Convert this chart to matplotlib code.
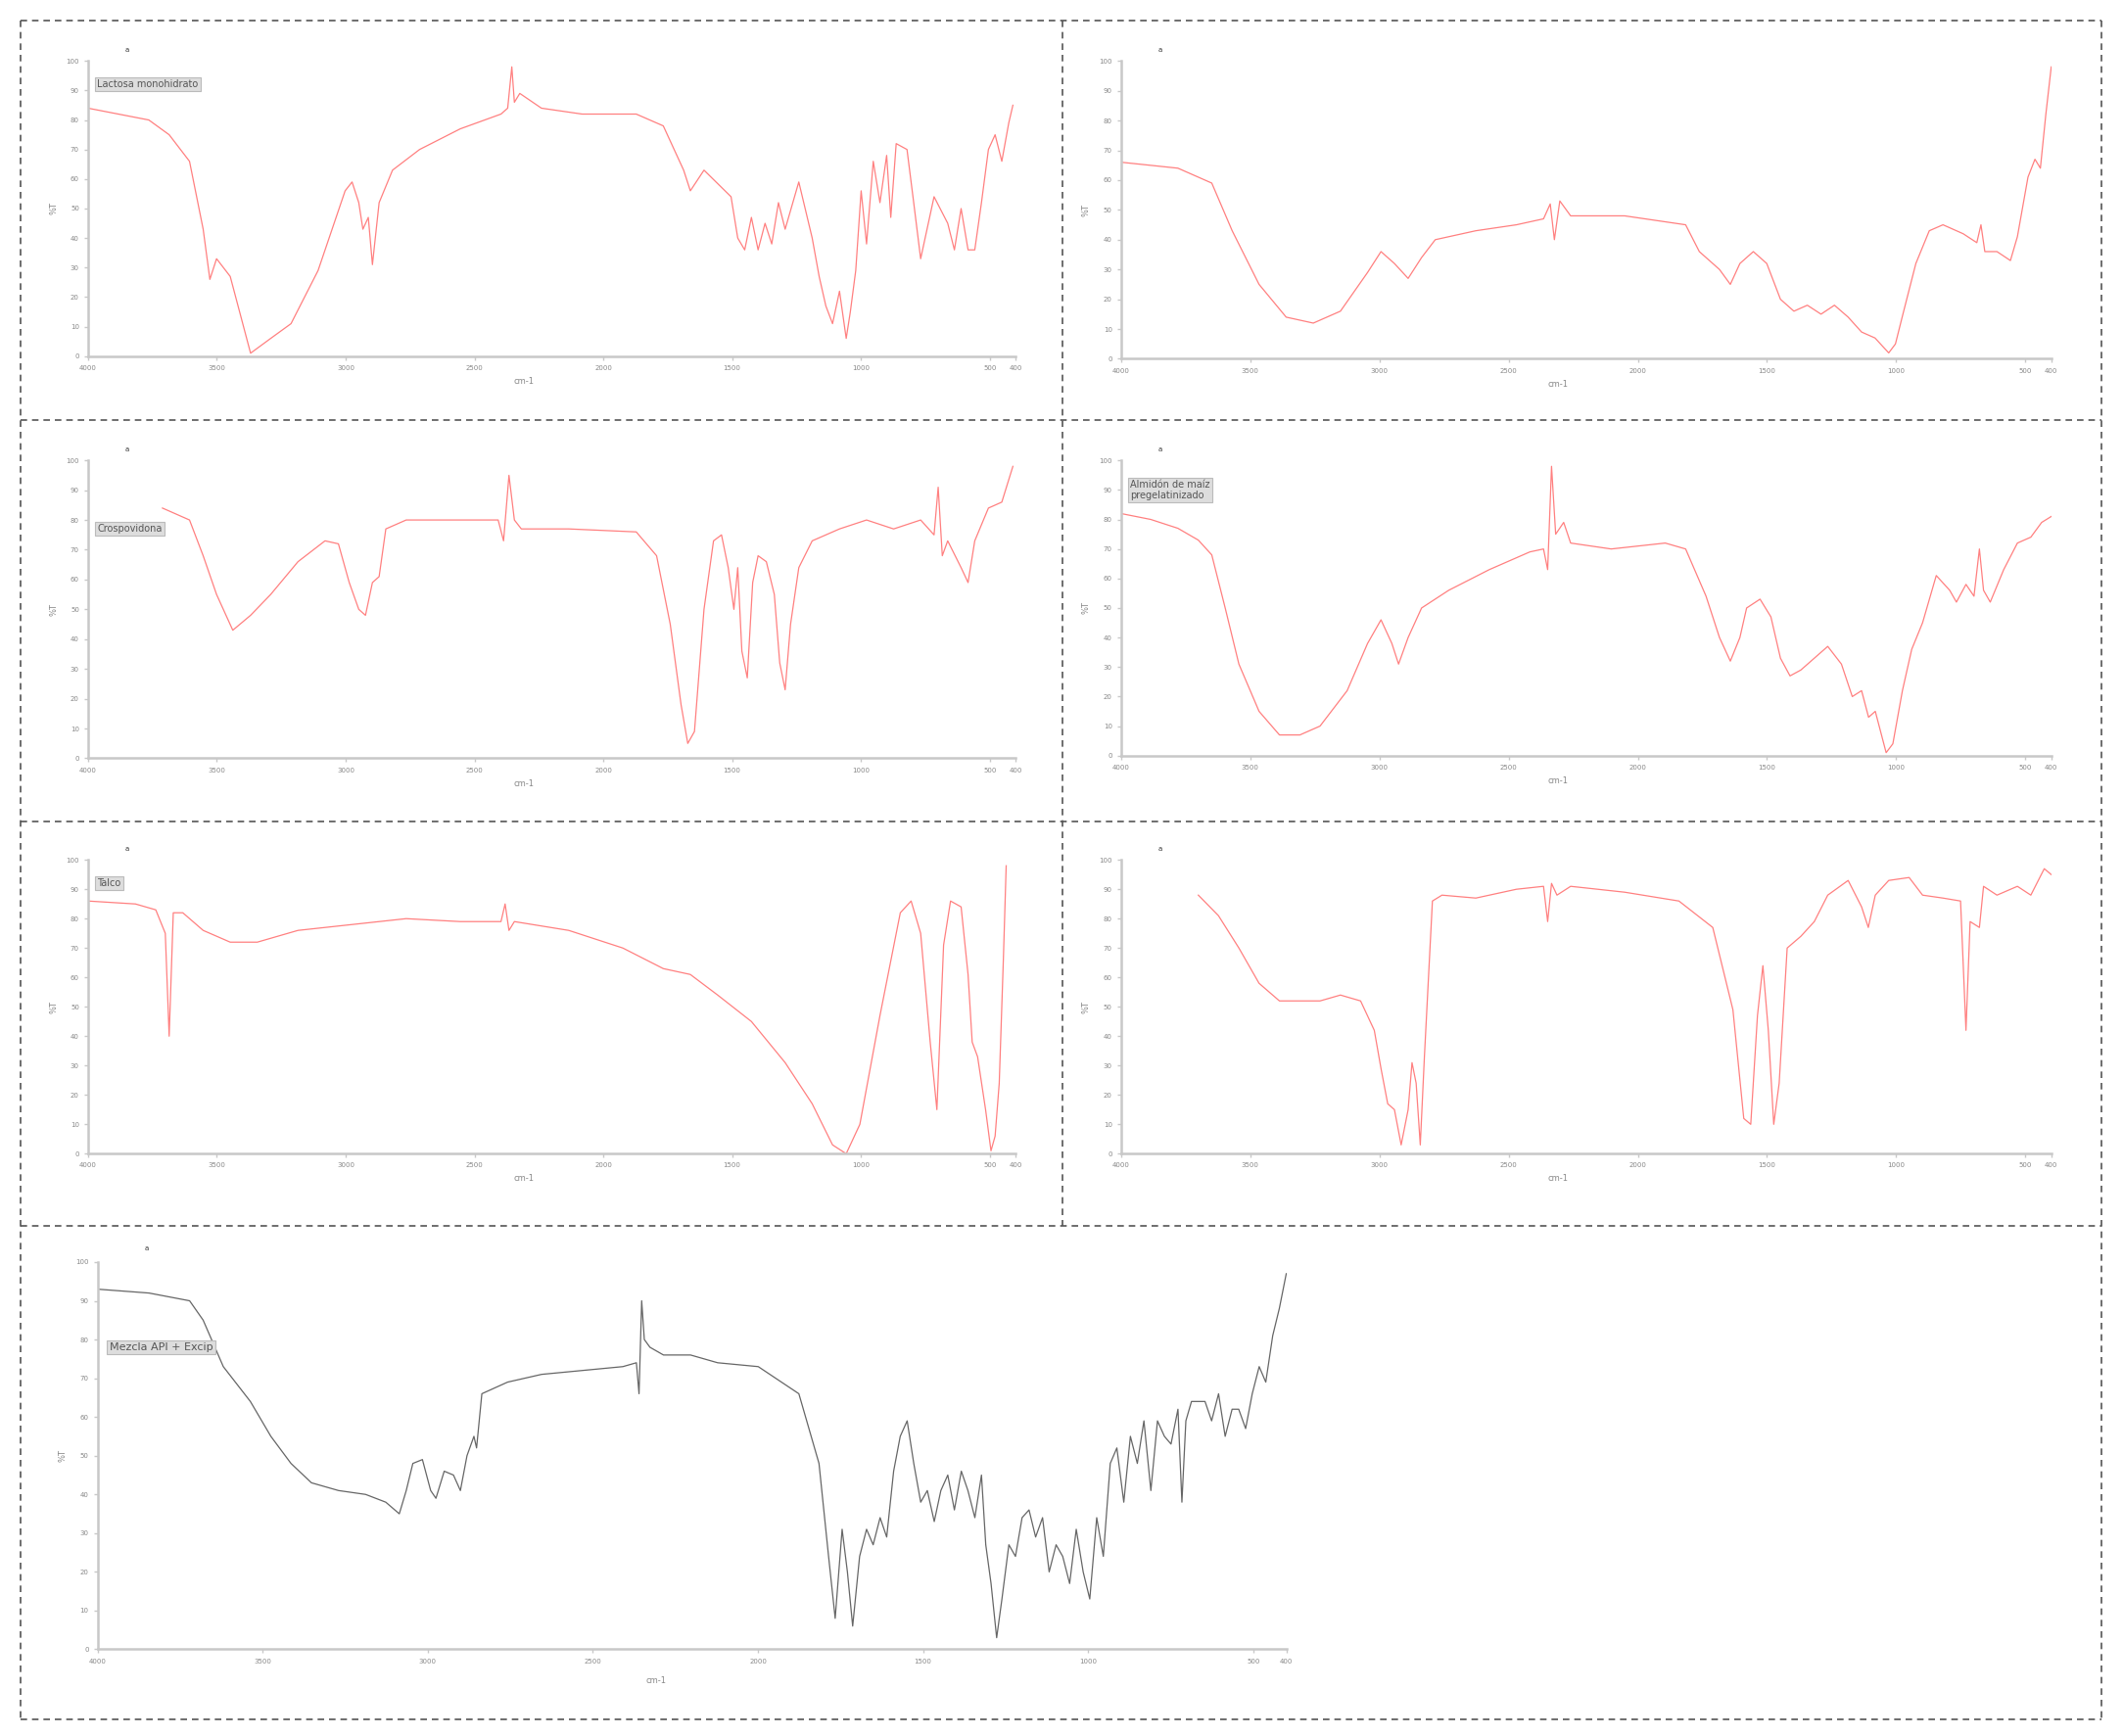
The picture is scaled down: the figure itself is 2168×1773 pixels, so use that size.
import matplotlib
matplotlib.use("Agg")
import matplotlib.pyplot as plt
from matplotlib.lines import Line2D

# ---- data (wavenumber cm-1, %T in axis units) ----
lac_wn = [4000,3764,3685,3606,3553,3527,3501,3448,3369,3291,3212,3107,3002,2975,2949,2933,2912,2896,2870,2818,2713,2555,2397,2371,2355,2345,2324,2240,2082,1872,1767,1688,1662,1609,1504,1478,1451,1425,1399,1372,1346,1320,1294,1241,1189,1162,1136,1110,1083,1057,1041,1020,999,978,952,926,900,884,863,821,795,768,716,663,637,611,584,558,532,505,479,453,426,410]
lac_t = [84,80,75,66,43,26,33,27,1,6,11,29,56,59,52,43,47,31,52,63,70,77,82,84,98,86,89,84,82,82,78,63,56,63,54,40,36,47,36,45,38,52,43,59,40,27,17,11,22,6,15,29,56,38,66,52,68,47,72,70,52,33,54,45,36,50,36,36,52,70,75,66,79,85]

p2_wn = [4000,3780,3649,3570,3466,3361,3256,3151,3046,2994,2942,2889,2837,2784,2627,2470,2365,2339,2323,2302,2260,2051,1815,1762,1736,1684,1642,1605,1553,1501,1448,1396,1344,1291,1239,1186,1134,1082,1029,1003,977,924,872,819,741,688,672,657,610,558,531,490,463,442,421,400]
p2_t = [66,64,59,43,25,14,12,16,29,36,32,27,34,40,43,45,47,52,40,53,48,48,45,36,34,30,25,32,36,32,20,16,18,15,18,14,9,7,2,5,14,32,43,45,42,39,45,36,36,33,41,61,67,64,82,98]

cro_wn = [3711,3606,3553,3501,3438,3369,3291,3185,3080,3028,2986,2949,2923,2896,2870,2844,2765,2555,2408,2387,2366,2345,2318,2134,1872,1793,1740,1698,1672,1646,1609,1572,1541,1515,1493,1478,1462,1441,1420,1399,1367,1336,1315,1294,1273,1241,1189,1083,978,873,768,716,700,684,663,611,584,558,505,453,410]
cro_t = [84,80,68,55,43,48,55,66,73,72,59,50,48,59,61,77,80,80,80,73,95,80,77,77,76,68,45,18,5,9,50,73,75,64,50,64,36,27,59,68,66,55,32,23,45,64,73,77,80,77,80,75,91,68,73,64,59,73,84,86,98]

alm_wn = [4000,3885,3780,3701,3649,3597,3544,3466,3387,3308,3230,3125,3046,2994,2952,2926,2889,2837,2732,2575,2418,2365,2349,2334,2318,2287,2260,2103,1894,1815,1736,1684,1642,1605,1579,1527,1485,1448,1411,1369,1317,1265,1212,1170,1134,1107,1081,1039,1013,976,940,898,845,793,767,730,699,678,662,636,584,531,479,437,400]
alm_t = [82,80,77,73,68,50,31,15,7,7,10,22,38,46,38,31,40,50,56,63,69,70,63,98,75,79,72,70,72,70,54,40,32,40,50,53,47,33,27,29,33,37,31,20,22,13,15,1,4,22,36,45,61,56,52,58,54,70,56,52,63,72,74,79,81]

tal_wn = [4000,3816,3737,3700,3685,3669,3632,3553,3448,3343,3185,2975,2765,2555,2397,2381,2366,2345,2134,1924,1767,1662,1556,1425,1294,1189,1110,1057,1004,926,847,805,768,731,705,679,652,611,584,568,547,516,495,479,463,447,436]
tal_t = [86,85,83,75,40,82,82,76,72,72,76,78,80,79,79,85,76,79,76,70,63,61,54,45,31,17,3,0,10,47,82,86,75,38,15,71,86,84,61,38,33,15,1,6,24,66,98]

p6_wn = [3701,3623,3544,3466,3387,3308,3230,3151,3073,3020,2994,2968,2942,2916,2889,2874,2858,2842,2826,2795,2758,2627,2470,2365,2349,2334,2313,2260,2051,1841,1710,1632,1590,1563,1537,1516,1495,1474,1453,1422,1369,1317,1265,1186,1134,1108,1081,1029,950,898,819,751,730,714,678,662,610,531,479,427,400]
p6_t = [88,81,70,58,52,52,52,54,52,42,29,17,15,3,15,31,24,3,33,86,88,87,90,91,79,92,88,91,89,86,77,49,12,10,47,64,42,10,24,70,74,79,88,93,84,77,88,93,94,88,87,86,42,79,77,91,88,91,88,97,95]

mez_wn = [4000,3844,3721,3680,3619,3537,3475,3414,3352,3270,3188,3127,3086,3065,3045,3016,2991,2975,2950,2922,2901,2881,2860,2852,2836,2758,2655,2532,2409,2368,2360,2352,2344,2327,2286,2204,2122,1999,1876,1815,1786,1766,1745,1729,1713,1692,1671,1651,1630,1610,1589,1569,1548,1528,1507,1487,1466,1446,1425,1405,1384,1364,1343,1323,1310,1294,1277,1261,1240,1220,1200,1179,1159,1138,1118,1097,1077,1056,1036,1015,995,974,954,933,913,892,872,851,831,810,790,769,749,728,716,704,687,646,626,605,585,564,544,523,503,482,462,441,421,400]
mez_t = [93,92,90,85,73,64,55,48,43,41,40,38,35,41,48,49,41,39,46,45,41,50,55,52,66,69,71,72,73,74,66,90,80,78,76,76,74,73,66,48,24,8,31,20,6,24,31,27,34,29,46,55,59,48,38,41,33,41,45,36,46,41,34,45,27,17,3,13,27,24,34,36,29,34,20,27,24,17,31,20,13,34,24,48,52,38,55,48,59,41,59,55,53,62,38,59,64,64,59,66,55,62,62,57,66,73,69,81,88,97]

xticks = [4000,3500,3000,2500,2000,1500,1000,500,400]
panel_labels = ["Lactosa monohidrato", "", "Crospovidona", "Almidón de maíz\npregelatinizado", "Talco", "", "Mezcla API + Excip"]
label_y = [0.92, 0.0, 0.77, 0.9, 0.92, 0.0, 0.78]

W, H = 1568, 1282
def rect(x0, y0, x1, y1):
    return [x0 / W, 1 - y1 / H, (x1 - x0) / W, (y1 - y0) / H]

fig = plt.figure(figsize=(21.68, 17.73), dpi=100)

def dline(x0, y0, x1, y1):
    fig.add_artist(Line2D([x0 / W, x1 / W], [1 - y0 / H, 1 - y1 / H], color="#555555",
                          lw=1.2, ls=(0, (4, 3)), transform=fig.transFigure))

for a in [(15, 15, 1552, 15), (15, 1270, 1552, 1270), (15, 15, 15, 1270), (1552, 15, 1552, 1270),
          (785, 15, 785, 905), (15, 310, 1552, 310), (15, 607, 1552, 607), (15, 905, 1552, 905)]:
    dline(*a)

panels = [
    (rect(65, 45, 750, 263), lac_wn, lac_t, "#ff8080", 0),
    (rect(828, 45, 1515, 265), p2_wn, p2_t, "#ff8080", 1),
    (rect(65, 340, 750, 560), cro_wn, cro_t, "#ff8080", 2),
    (rect(828, 340, 1515, 558), alm_wn, alm_t, "#ff8080", 3),
    (rect(65, 635, 750, 852), tal_wn, tal_t, "#ff8080", 4),
    (rect(828, 635, 1515, 852), p6_wn, p6_t, "#ff8080", 5),
    (rect(72, 932, 950, 1218), mez_wn, mez_t, "#666666", 6),
]

for r, wn, t, col, i in panels:
    ax = fig.add_axes(r)
    ax.plot(wn, t, color=col, lw=0.9)
    ax.set_xlim(4000, 400)
    ax.set_ylim(0, 100)
    ax.set_xticks(xticks)
    ax.set_xticklabels([str(v) for v in xticks], fontsize=5)
    ax.set_yticks(range(0, 101, 10))
    ax.set_yticklabels([str(v) for v in range(0, 101, 10)], fontsize=5)
    for s in ["top", "right"]:
        ax.spines[s].set_visible(False)
    for s in ["left", "bottom"]:
        ax.spines[s].set_color("#c8c8c8")
        ax.spines[s].set_linewidth(1.8)
    ax.tick_params(colors="#c8c8c8", length=3, width=1, labelcolor="#888888")
    ax.set_xlabel("cm-1", fontsize=6, color="#888888", labelpad=2)
    ax.xaxis.set_label_coords(0.47, -0.07)
    ax.set_ylabel("%T", fontsize=6, color="#888888", labelpad=6)
    ax.text(0.04, 1.03, "a", transform=ax.transAxes, fontsize=5, color="#333333")
    if panel_labels[i]:
        ax.text(0.01, label_y[i], panel_labels[i], transform=ax.transAxes, fontsize=7 if i != 6 else 8,
                color="#555555", va="center",
                bbox=dict(boxstyle="square,pad=0.2", fc="#dddddd", ec="#bbbbbb", lw=0.8))

fig.savefig("out.png", dpi=100)
